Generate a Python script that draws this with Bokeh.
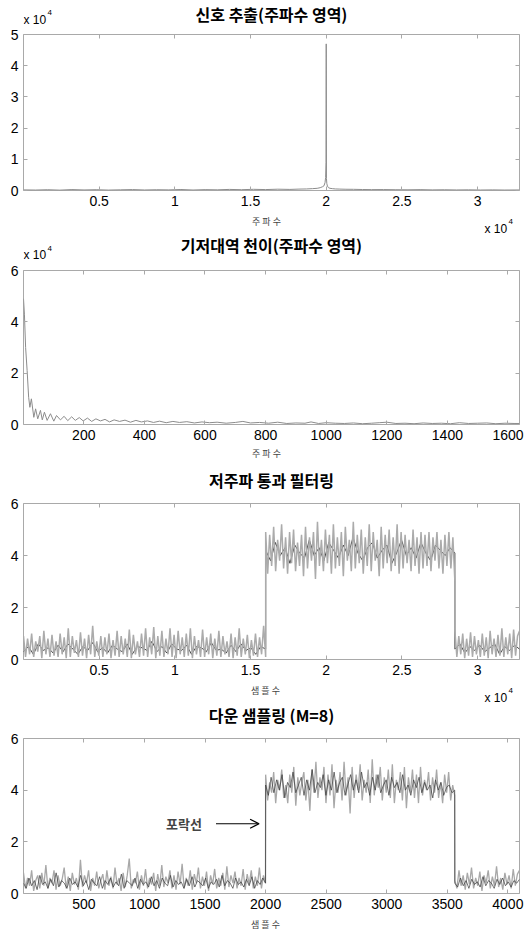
import numpy as np
from bokeh.plotting import figure
from bokeh.models import (Range1d, FixedTicker, CustomJSTickFormatter, LinearAxis,
                          Label, Arrow, OpenHead)
from bokeh.layouts import column
from bokeh.embed import file_html
from bokeh.resources import INLINE

# ---------------- data ----------------
# Plot 1: extracted signal spectrum (magnitude)
freq1 = [1, 800, 1600, 2400, 3200, 4000, 4800, 5600, 6400, 7200,
         8000, 8800, 9600, 10400, 11200, 12000, 12800, 13600, 14400, 15200,
         16000, 16800, 17600, 18200, 18700, 19100, 19400, 19600, 19750, 19850,
         19920, 19960, 19985, 20000, 20015, 20040, 20080, 20150, 20250, 20400,
         20600, 20900, 21300, 21800, 22400, 23000, 23800, 24600, 25400, 26200,
         27000, 27800, 28600, 29400, 30200, 31000, 31800, 32768]
mag1 = [200, 150, 250, 120, 300, 180, 260, 140, 220, 300,
        170, 250, 200, 320, 160, 280, 220, 350, 260, 380,
        300, 420, 350, 450, 500, 600, 700, 900, 1200, 1500,
        2500, 4200, 9000, 47000, 3800, 2200, 1400, 900, 700, 600,
        500, 450, 400, 380, 320, 280, 300, 250, 230, 280,
        200, 240, 180, 220, 160, 200, 150, 180]

# Plot 2: baseband spectrum (values in units of 1e4)
freq2 = [1, 4, 8, 13, 18, 22, 27, 35, 41, 48,
         57, 63, 70, 79, 90, 101, 110, 123, 135, 147,
         160, 172, 185, 198, 212, 226, 240, 255, 270, 285,
         300, 318, 336, 354, 372, 390, 410, 430, 450, 472,
         494, 516, 540, 565, 590, 615, 640, 670, 700, 725,
         750, 780, 810, 840, 870, 900, 930, 950, 975, 1000,
         1030, 1060, 1090, 1120, 1150, 1175, 1200, 1230, 1260, 1290,
         1320, 1350, 1380, 1410, 1440, 1470, 1500, 1530, 1560, 1590,
         1620, 1638]
mag2_e4 = [4.9, 4.3, 3.0, 2.1, 1.06, 0.67, 1.0, 0.28, 0.61, 0.22,
           0.55, 0.18, 0.48, 0.16, 0.42, 0.13, 0.35, 0.18, 0.32, 0.15,
           0.3, 0.16, 0.27, 0.14, 0.25, 0.12, 0.22, 0.14, 0.2, 0.1,
           0.18, 0.12, 0.17, 0.09, 0.16, 0.1, 0.14, 0.08, 0.13, 0.07,
           0.12, 0.08, 0.11, 0.06, 0.1, 0.07, 0.09, 0.05, 0.08, 0.12,
           0.06, 0.08, 0.05, 0.09, 0.04, 0.06, 0.05, 0.1, 0.04, 0.07,
           0.05, 0.04, 0.06, 0.03, 0.05, 0.07, 0.09, 0.04, 0.05, 0.03,
           0.06, 0.04, 0.05, 0.03, 0.07, 0.04, 0.05, 0.06, 0.03, 0.05,
           0.04, 0.04]

# Plot 3: low-pass filtered signal (32768 samples); segments split at the envelope edges
N3 = 32768
STEP_ON3, STEP_OFF3 = 16000, 28500
lp_gray_low1 = [0.9, 0.1, 0.8, 0.2, 1.0, 0.1, 0.7, 0.3, 0.9, 0.05, 1.1, 0.2, 0.8, 0.1, 0.95, 0.15, 0.7, 0.1, 1.0, 0.2,
                0.85, 0.05, 1.2, 0.1, 0.9, 0.25, 0.75, 0.1, 1.05, 0.15, 0.8, 0.05, 0.95, 0.2, 1.3, 0.1, 0.7, 0.15, 0.9, 0.1,
                0.85, 0.2, 1.0, 0.05, 0.75, 0.15, 1.1, 0.1, 0.9, 0.2, 0.8, 0.1, 1.15, 0.05, 0.95, 0.2, 0.7, 0.1, 1.0, 0.15,
                1.2, 0.1, 0.85, 0.2, 1.25, 0.05, 0.9, 0.15, 1.1, 0.1, 0.8, 0.2, 1.2, 0.1, 0.95, 0.05, 1.1, 0.2, 0.85, 0.1,
                1.0, 0.15, 1.2, 0.05, 0.9, 0.2, 0.75, 0.1, 1.15, 0.1, 0.85, 0.2, 1.0, 0.05, 0.8, 0.15, 1.1, 0.1, 0.9, 0.2,
                0.7, 0.1, 1.0, 0.05, 0.85, 0.15, 1.2, 0.1, 0.8, 0.2, 0.95, 0.05, 0.75, 0.15, 1.0, 0.1, 0.85, 0.2, 1.3, 0.1]
lp_gray_high = [4.9, 3.3, 4.8, 3.6, 5.1, 3.4, 4.6, 3.8, 5.2, 3.5, 4.7, 3.3, 4.9, 3.7, 5.0, 3.4, 4.5, 3.6, 4.8, 3.2,
                5.1, 3.5, 4.7, 3.8, 4.9, 3.1, 5.3, 3.6, 4.6, 3.4, 5.0, 3.7, 4.8, 3.3, 5.2, 3.5, 4.7, 3.6, 4.9, 3.2,
                5.1, 3.8, 4.6, 3.4, 5.3, 3.5, 4.8, 3.7, 5.0, 3.3, 4.7, 3.6, 5.2, 3.4, 4.9, 3.8, 4.6, 3.2, 5.1, 3.5,
                4.8, 3.7, 5.0, 3.4, 4.7, 3.6, 5.2, 3.3, 4.9, 3.5, 4.8, 3.7, 4.6, 3.4, 5.0, 3.6, 4.7, 3.3, 4.9, 3.5,
                4.8, 3.6, 4.9, 3.4, 4.7, 3.8, 4.9, 3.5, 4.6, 3.3, 4.8, 3.6, 4.9, 3.5, 4.7, 3.0]
lp_gray_low2 = [1.1, 0.1, 0.9, 0.2, 1.0, 0.05, 0.8, 0.15, 1.05, 0.1, 0.9, 0.2, 0.75, 0.1, 1.0, 0.15, 0.85, 0.05, 1.1, 0.2,
                0.8, 0.1, 0.95, 0.15, 1.2, 0.1, 0.85, 0.2, 1.0, 0.05, 1.15, 0.15, 0.9, 1.1]
lp_dark_low1 = [0.3, 0.5, 0.2, 0.6, 0.35, 0.45, 0.25, 0.55, 0.3, 0.6, 0.4, 0.2, 0.5, 0.35, 0.65, 0.3, 0.45, 0.25, 0.55, 0.4,
                0.3, 0.6, 0.2, 0.5, 0.45, 0.35, 0.7, 0.3, 0.5, 0.25, 0.6, 0.4, 0.35, 0.55, 0.2, 0.5, 0.45, 0.3, 0.65, 0.35,
                0.4, 0.25, 0.55, 0.3, 0.6, 0.35, 0.45, 0.2, 0.5, 0.4]
lp_dark_high = [4.2, 3.8, 4.5, 4.0, 4.3, 3.7, 4.4, 4.1, 3.9, 4.6, 4.0, 4.3, 3.8, 4.5, 4.2, 3.9, 4.4, 4.0, 4.7, 4.1,
                3.8, 4.3, 4.5, 3.9, 4.2, 4.4, 3.7, 4.1, 4.6, 4.0, 4.3, 3.9, 4.5, 4.1, 3.8, 4.4, 4.2, 4.0, 4.3, 4.1]
lp_dark_low2 = [0.4, 0.6, 0.25, 0.5, 0.35, 0.55, 0.3, 0.45, 0.6, 0.2, 0.5, 0.35, 0.55, 0.4]

# Plot 4: down-sampled signal (M=8, 4096 samples)
N4 = 4096
STEP_ON4, STEP_OFF4 = 2000, 3562
ds_gray_low1 = [0.8, 0.2, 0.6, 0.3, 0.9, 0.1, 0.5, 0.7, 0.2, 0.8, 0.3, 1.1, 0.2, 0.6, 0.4, 0.9, 0.15, 0.7, 0.3, 0.55,
                1.0, 0.2, 0.65, 0.1, 0.8, 0.35, 0.6, 0.15, 1.3, 0.25, 0.7, 0.4, 0.9, 0.1, 0.6, 0.3, 0.85, 0.2, 0.5, 0.75,
                0.15, 0.9, 0.3, 0.65, 0.2, 1.0, 0.35, 0.6, 0.1, 0.8, 0.25, 0.7, 1.35, 0.2, 0.55, 0.4, 0.85, 0.15, 0.7, 0.3,
                0.95, 0.2, 0.6, 0.35, 0.8, 0.1, 0.75, 0.3, 1.1, 0.25, 0.65, 0.4, 0.9, 0.2, 0.7, 0.15, 0.85, 0.35, 1.15, 0.2,
                0.6, 0.3, 0.9, 0.15, 0.75, 0.4, 1.0, 0.2, 0.65, 0.3, 0.85, 0.1, 0.7, 0.35, 0.95, 0.2, 0.6, 0.3, 0.8, 0.15,
                1.05, 0.25, 0.7, 0.4, 0.85, 0.2, 0.6, 0.3, 0.95, 0.15, 0.75, 0.35, 0.9, 0.2, 0.65, 0.3, 1.0, 0.2, 0.7, 0.4]
ds_gray_high = [4.6, 3.6, 4.3, 3.9, 4.7, 3.5, 4.4, 4.0, 4.8, 3.7, 4.2, 3.5, 4.6, 3.9, 4.9, 3.4, 4.5, 3.8, 4.3, 4.7,
                3.6, 4.4, 3.2, 4.8, 3.9, 5.1, 3.7, 4.5, 4.0, 4.9, 3.5, 4.6, 3.8, 5.0, 3.3, 4.4, 3.9, 4.7, 3.6, 5.1,
                3.8, 4.5, 3.1, 4.9, 3.7, 4.6, 4.0, 5.0, 3.6, 4.4, 3.9, 4.8, 3.5, 5.2, 3.8, 4.6, 4.1, 4.9, 3.6, 4.5,
                3.9, 4.8, 3.7, 5.0, 3.5, 4.4, 4.0, 4.7, 3.6, 4.9, 3.3, 4.5, 3.9, 4.8, 3.7, 4.6, 3.5, 4.9, 3.8, 4.4,
                4.0, 4.7, 3.6, 4.5, 3.9, 4.8, 3.7, 4.3, 3.5, 4.6, 3.9, 4.7, 3.6, 4.2, 3.8]
ds_gray_low2 = [0.5, 0.2, 0.9, 0.3, 0.7, 0.15, 0.8, 0.35, 1.0, 0.2, 0.6, 0.3, 0.85, 0.1, 0.7, 0.4, 0.9, 0.2, 0.65, 0.3,
                1.05, 0.25, 0.6, 0.15, 0.8, 0.35, 0.7, 0.2, 0.95, 0.3, 0.75, 0.9]
ds_dark_low1 = [0.4, 0.2, 0.6, 0.3, 0.5, 0.15, 0.7, 0.35, 0.45, 0.2, 0.55, 0.3, 0.8, 0.25, 0.5, 0.4, 0.2, 0.6, 0.35, 0.45,
                0.25, 0.7, 0.3, 0.5, 0.15, 0.55, 0.4, 0.3, 0.65, 0.2, 0.5, 0.35, 0.6, 0.25, 0.45, 0.3, 0.75, 0.2, 0.5, 0.4,
                0.3, 0.6, 0.2, 0.55, 0.35, 0.45, 0.25, 0.65, 0.3, 0.5, 0.2, 0.6, 0.4, 0.3, 0.7, 0.25, 0.5, 0.35, 0.45, 0.2,
                0.55, 0.3, 0.65, 0.25, 0.5, 0.4, 0.3, 0.6, 0.2, 0.45, 0.35, 0.55, 0.25, 0.7, 0.3, 0.5, 0.4, 0.2, 0.6, 0.35,
                0.45, 0.25, 0.55, 0.3, 0.65, 0.2, 0.5, 0.35, 0.6, 0.4]
ds_dark_high = [4.2, 3.8, 4.5, 3.9, 4.4, 4.0, 4.6, 3.7, 4.3, 4.1, 4.7, 3.9, 4.2, 4.5, 3.8, 4.4, 4.0, 4.8, 3.9, 4.3,
                4.1, 4.6, 3.8, 4.4, 4.0, 4.7, 3.9, 4.3, 4.5, 3.8, 4.2, 4.6, 4.0, 4.4, 3.9, 4.7, 4.1, 4.3, 3.8, 4.5,
                4.0, 4.6, 3.9, 4.2, 4.4, 3.8, 4.5, 4.1, 4.3, 3.9, 4.6, 4.0, 4.2, 3.8, 4.4, 4.1, 4.5, 3.9, 4.3, 4.0,
                4.2, 3.7, 4.4, 4.0, 4.3, 3.8, 4.1, 4.2, 3.9, 4.0]
ds_dark_low2 = [0.4, 0.25, 0.6, 0.3, 0.5, 0.2, 0.55, 0.35, 0.45, 0.25, 0.65, 0.3, 0.5, 0.4, 0.2, 0.55, 0.35, 0.6, 0.3, 0.45,
                0.25, 0.5, 0.4, 0.55]

# Axis ticks
xticks_long = [5000, 10000, 15000, 20000, 25000, 30000]
xticks_p2 = [200, 400, 600, 800, 1000, 1200, 1400, 1600]
xticks_p4 = [500, 1000, 1500, 2000, 2500, 3000, 3500, 4000]
yticks_p1 = [0, 10000, 20000, 30000, 40000, 50000]
yticks_p2 = [0, 20000, 40000, 60000]
yticks_06 = [0, 2, 4, 6]

# Annotation (plot 4)
ENV_LABEL = "포락선"
ENV_LABEL_X, ENV_Y = 1326, 2.7
ARROW_X0, ARROW_X1 = 1590, 1946

titles = ["신호 추출(주파수 영역)", "기저대역 천이(주파수 영역)", "저주파 통과 필터링", "다운 샘플링 (M=8)"]
xlabels = ["주 파 수", "주 파 수", "샘 플  수", "샘 플  수"]
EXP_BASE, EXP_POW = "x 10", "4"

assert len(freq1) == len(mag1) and len(freq2) == len(mag2_e4)

# ---------------- helpers ----------------
FRAME = "#a9a9a9"
TICK_FONT = "Liberation Sans"
KFONT = "Noto Sans CJK KR"
W = 527
FL = 23          # left edge of every frame (text strips share it)
TOP_B, BOT_B = 8, 22


def segments(n_total, on, off, low1, high, low2):
    xs = np.concatenate([np.linspace(1, on - 1, len(low1)),
                         np.linspace(on, off - 1, len(high)),
                         np.linspace(off, n_total, len(low2))])
    ys = np.array(list(low1) + list(high) + list(low2), dtype=float)
    return xs, ys


def make_fig(frame_h, xr, yr, xticks, yticks, xfmt, yfmt):
    p = figure(width=W, height=frame_h + TOP_B + BOT_B, x_range=Range1d(*xr), y_range=Range1d(*yr),
               output_backend="svg", toolbar_location=None, title=None,
               min_border_left=FL, min_border_right=8, min_border_top=TOP_B, min_border_bottom=BOT_B)
    p.outline_line_color = FRAME
    p.outline_line_width = 1
    p.xgrid.visible = False
    p.ygrid.visible = False
    for ax, ticks, fmt in ((p.xaxis[0], xticks, xfmt), (p.yaxis[0], yticks, yfmt)):
        ax.ticker = FixedTicker(ticks=ticks)
        if fmt is not None:
            ax.formatter = CustomJSTickFormatter(code=fmt)
        ax.major_tick_in = 4
        ax.major_tick_out = 0
        ax.minor_tick_line_color = None
        ax.axis_line_color = None
        ax.major_tick_line_color = FRAME
        ax.major_label_text_font = TICK_FONT
        ax.major_label_text_font_size = "14px"
        ax.major_label_text_color = "black"
    p.xaxis[0].major_label_standoff = 5
    p.yaxis[0].major_label_standoff = 5
    for loc, ticks in (("above", xticks), ("right", yticks)):
        a = LinearAxis(ticker=FixedTicker(ticks=ticks), major_tick_in=4, major_tick_out=0,
                       minor_tick_line_color=None, axis_line_color=None,
                       major_tick_line_color=FRAME, major_label_text_color=None,
                       major_label_text_font_size="1px", major_label_standoff=0,
                       formatter=CustomJSTickFormatter(code="return ''"))
        p.add_layout(a, loc)
    return p


class Strip:
    """A text-only band; texts are placed by page coordinates."""
    def __init__(self, top, bottom):
        self.top, self.bottom = top, bottom
        h = bottom - top
        s = figure(width=W, height=h, x_range=Range1d(0, W), y_range=Range1d(0, h),
                   output_backend="svg", toolbar_location=None, title=None,
                   x_axis_location=None, y_axis_location=None,
                   min_border_left=0, min_border_right=0, min_border_top=0, min_border_bottom=0)
        s.outline_line_color = None
        s.xgrid.visible = False
        s.ygrid.visible = False
        self.fig = s

    def put(self, px, py, text, size, bold=False, color="black", align="center", font=KFONT):
        self.fig.add_layout(Label(x=px - FL, y=self.bottom - py, x_units="screen", y_units="screen",
                                  text=text, text_font=font, text_font_size=size,
                                  text_font_style="bold" if bold else "normal",
                                  text_align=align, text_baseline="middle", text_color=color))

    def exp(self, px, py, pow_dx=24):
        self.put(px, py, EXP_BASE, "12px", font=TICK_FONT, align="left")
        self.put(px + pow_dx, py - 7, EXP_POW, "8px", font=TICK_FONT, align="left")

    def title(self, py, text):
        self.put(271, py, text, "16px", bold=True)

    def xlabel(self, py, text):
        self.put(266, py, text, "9px", color="#444444")


E4 = "return String(tick/10000)"

# ---- strip T1 (page 0..26) ----
t1 = Strip(0, 26)
t1.title(13.5, titles[0])
t1.exp(23, 19)

# ---- plot 1 (frame 34..190, canvas 26..212) ----
p1 = make_fig(156, (1, N3), (0, 50000), xticks_long, yticks_p1, E4, E4)
p1.line(freq1, mag1, line_color="#8c8c8c", line_width=1)

# ---- strip T2 (page 212..262) ----
t2 = Strip(212, 262)
t2.xlabel(221, xlabels[0])
t2.exp(484, 228)
t2.title(244.5, titles[1])
t2.exp(23, 254.5)

# ---- plot 2 (frame 270..424, canvas 262..446) ----
p2 = make_fig(154, (1, 1638), (0, 60000), xticks_p2, yticks_p2, None, E4)
p2.line(freq2, [v * 1e4 for v in mag2_e4], line_color="#8c8c8c", line_width=1)

# ---- strip T3 (page 446..495) ----
t3 = Strip(446, 495)
t3.xlabel(453, xlabels[1])
t3.title(479.5, titles[2])

# ---- plot 3 (frame 503..659, canvas 495..681) ----
p3 = make_fig(156, (1, N3), (0, 6), xticks_long, yticks_06, E4, None)
x3d, y3d = segments(N3, STEP_ON3, STEP_OFF3, lp_dark_low1, lp_dark_high, lp_dark_low2)
x3g, y3g = segments(N3, STEP_ON3, STEP_OFF3, lp_gray_low1, lp_gray_high, lp_gray_low2)
p3.line(x3d, y3d, line_color="#303030", line_width=0.9)
p3.line(x3g, y3g, line_color="#ababab", line_width=1.5)

# ---- strip T4 (page 681..730) ----
t4 = Strip(681, 730)
t4.xlabel(690, xlabels[2])
t4.exp(484, 697)
t4.title(714.5, titles[3])

# ---- plot 4 (frame 738..893, canvas 730..915) ----
p4 = make_fig(155, (1, N4), (0, 6), xticks_p4, yticks_06, None, None)
x4g, y4g = segments(N4, STEP_ON4, STEP_OFF4, ds_gray_low1, ds_gray_high, ds_gray_low2)
x4d, y4d = segments(N4, STEP_ON4, STEP_OFF4, ds_dark_low1, ds_dark_high, ds_dark_low2)
p4.line(x4g, y4g, line_color="#a8a8a8", line_width=1.3)
p4.line(x4d, y4d, line_color="#383838", line_width=0.7)
p4.add_layout(Label(x=ENV_LABEL_X, y=ENV_Y, text=ENV_LABEL, text_font=KFONT, text_font_size="13px",
                    text_font_style="bold", text_align="center", text_baseline="middle"))
p4.add_layout(Arrow(end=OpenHead(size=9, line_width=1.2, line_color="black"),
                    x_start=ARROW_X0, y_start=ENV_Y, x_end=ARROW_X1, y_end=ENV_Y,
                    line_width=1.2, line_color="black"))

# ---- strip T5 (page 915..934) ----
t5 = Strip(915, 934)
t5.xlabel(924, xlabels[3])

layout = column(t1.fig, p1, t2.fig, p2, t3.fig, p3, t4.fig, p4, t5.fig, spacing=0)
open("out.html", "w").write(file_html(layout, INLINE))
